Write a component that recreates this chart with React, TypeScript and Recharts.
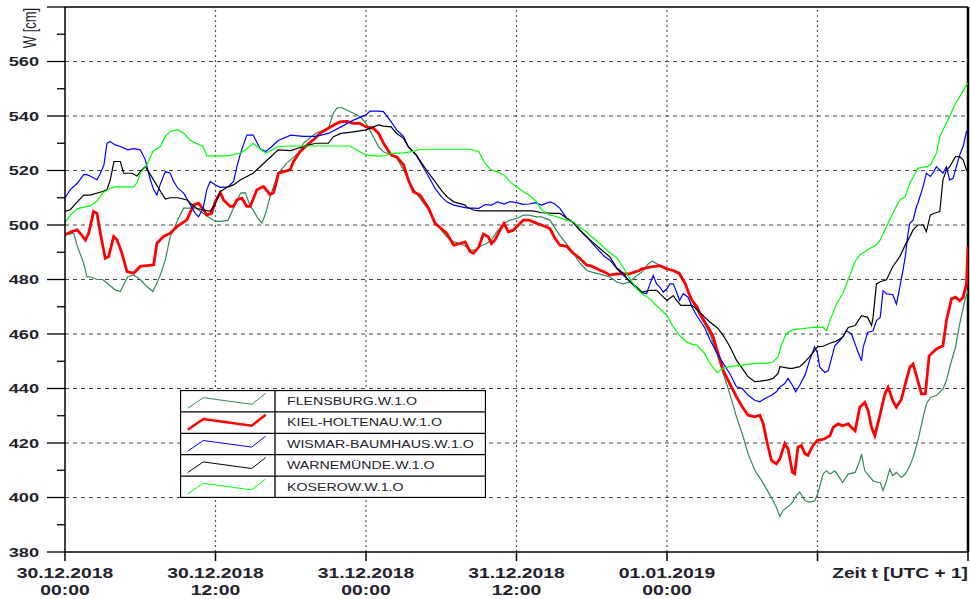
import React from 'react';
import { LineChart, Line, XAxis, YAxis, ReferenceLine, Legend } from 'recharts';

// Water level at Baltic gauges, 30.12.2018 00:00 - 02.01.2019 00:00 (hours from start)
const stations = ['FLENSBURG.W.1.O', 'KIEL-HOLTENAU.W.1.O', 'WISMAR-BAUMHAUS.W.1.O', 'WARNEMÜNDE.W.1.O', 'KOSEROW.W.1.O'];
const colors = ['#2e8b57', '#ff0000', '#0000ff', '#000000', '#00ff00'];
const widths = [1.2, 2.8, 1.2, 1.2, 1.2];

const xTicks = [0, 12, 24, 36, 48, 60, 72];
const xTickDates = ['30.12.2018', '30.12.2018', '31.12.2018', '31.12.2018', '01.01.2019', '', 'Zeit t [UTC + 1]'];
const xTickTimes = ['00:00', '12:00', '00:00', '12:00', '00:00', '', ''];
const yTicks = [380, 390, 400, 410, 420, 430, 440, 450, 460, 470, 480, 490, 500, 510, 520, 530, 540, 550, 560, 570, 580];
const gridY = [400, 420, 440, 460, 480, 500, 520, 540, 560];
const gridX = [12, 24, 36, 48, 60];

const flensburgT = [0, 0.69, 1, 1.49, 1.75, 2, 2.55, 3, 3.35, 4, 4.41, 5, 5.47, 6, 6.53, 7, 7.33, 7.6, 8, 8.39, 8.66, 9, 9.46, 10, 10.5, 11, 11.58, 12, 12.38, 13, 13.44, 14, 14.37, 14.77, 15, 15.3, 15.7, 16, 16.36, 17, 17.69, 18, 18.75, 19, 20, 21, 21.4, 21.67, 22, 22.46, 23, 23.53, 24, 24.59, 25, 25.39, 26, 26.45, 27, 27.38, 28, 28.31, 29, 29.51, 30, 30.44, 31, 31.5, 32, 32.3, 32.83, 33, 33.62, 34, 34.42, 35, 35.48, 36, 36.55, 37, 37.61, 38, 38.67, 39, 39.46, 40, 40.5, 41, 41.6, 42, 42.65, 43, 43.45, 44, 44.5, 45, 45.6, 46, 46.5, 46.8, 47, 47.43, 48, 48.5, 49, 49.46, 50, 50.62, 51, 51.42, 52, 52.48, 53, 53.54, 54, 54.47, 55, 55.53, 56, 56.46, 56.72, 57, 57.25, 57.78, 58, 58.31, 58.58, 59, 59.38, 59.79, 60, 60.45, 60.71, 61, 61.38, 61.65, 62, 62.45, 63, 63.37, 63.51, 63.77, 64, 64.43, 64.83, 65, 65.23, 65.5, 65.76, 66, 66.29, 66.69, 67, 67.36, 67.62, 68, 68.42, 68.68, 69, 69.48, 70, 70.28, 70.54, 71, 71.34, 71.74, 72];
const flensburgW = [496.4, 497, 492, 486, 481, 481, 480, 480, 478.7, 476.2, 475.6, 481, 481.7, 480, 477.4, 475.6, 478.7, 481.7, 487.2, 495.8, 498.2, 502, 506.2, 506.2, 506.2, 504.3, 502.5, 501.3, 501.3, 501.7, 506.2, 511.7, 511.9, 506.8, 505.6, 503, 500.7, 504.3, 510.5, 519, 522.7, 524, 527, 530, 533.7, 535.5, 541, 542.8, 543.2, 542.2, 541, 539.8, 537.3, 532.4, 528.7, 526.9, 525.7, 524.5, 520.2, 516.5, 511.6, 509.8, 505.5, 500.6, 498.1, 495.7, 493.8, 493.2, 492, 490.8, 490.8, 492, 493.2, 494.5, 497.5, 500.6, 501.8, 502.4, 503.6, 503.6, 503, 503, 501.8, 499.3, 496.2, 493, 490, 486.3, 483.3, 482.7, 482, 481.5, 480.9, 479.1, 478.4, 479.1, 481.5, 482.7, 485.7, 486.7, 486.3, 485.1, 483.9, 483.3, 482.7, 478.4, 472.3, 466.8, 463.8, 460.1, 452.5, 445.5, 438.2, 429.6, 423.4, 416, 410, 406.3, 402.6, 398.9, 396.4, 393, 395.2, 397.1, 398.3, 400.7, 402, 398.9, 398.3, 398.8, 401.2, 408.6, 409.8, 408.6, 409.8, 408, 405.5, 408.6, 409.2, 413.5, 415.9, 409.8, 408.6, 406.1, 405.5, 405.5, 402.5, 406.1, 410.4, 408, 409.2, 407.4, 408.6, 411.7, 414.7, 420.8, 429.4, 434.3, 436.7, 437.4, 439.8, 442.9, 447.8, 455.1, 463.7, 472.2, 476];

const kielT = [0, 0.5, 0.96, 1.3, 1.62, 1.89, 2.28, 2.55, 2.82, 3.21, 3.48, 3.88, 4.14, 4.54, 4.94, 5.47, 6, 7.07, 7.33, 7.86, 8.39, 8.92, 9.72, 10.25, 10.65, 11.05, 11.31, 11.69, 11.98, 12.38, 12.64, 13.17, 13.44, 13.71, 14.1, 14.5, 14.77, 15.3, 15.83, 16.36, 16.63, 17.03, 17.95, 18.22, 18.75, 19.02, 19.81, 20.35, 21, 21.67, 22, 22.5, 23, 23.5, 24, 24.6, 25, 25.4, 26, 26.45, 27, 27.38, 27.78, 28.31, 29, 29.51, 30, 30.44, 31, 31.5, 31.9, 32.3, 32.56, 33, 33.36, 33.75, 34, 34.29, 34.68, 35, 35.35, 35.75, 36, 36.55, 37, 37.61, 38, 38.67, 39, 39.46, 40, 40.53, 41, 41.59, 42, 42.65, 43, 43.45, 44, 45, 45.8, 46, 46.64, 47.43, 48, 48.5, 49, 49.46, 49.7, 50, 50.4, 50.62, 51, 51.42, 51.69, 52, 52.48, 53, 53.54, 54, 54.47, 55, 55.4, 55.67, 56, 56.33, 56.72, 57, 57.39, 57.65, 58, 58.18, 58.44, 58.71, 59, 59.24, 59.64, 60, 60.5, 61, 61.25, 61.65, 62, 62.45, 62.71, 63, 63.37, 63.77, 64.04, 64.31, 64.57, 65, 65.37, 65.63, 66, 66.29, 66.69, 67, 67.36, 67.62, 68, 68.29, 68.6, 68.9, 69.48, 70, 70.28, 70.68, 71, 71.34, 71.61, 71.88, 72];
const kielW = [496.4, 497.5, 498.2, 496.5, 494.5, 497, 505, 504.3, 497, 487.8, 488.4, 495.8, 494.6, 489.7, 482.9, 482.3, 484.8, 485.4, 493.3, 495.8, 497, 499.4, 501.9, 507.4, 508, 505.6, 503.7, 504.3, 508.6, 511.9, 509.2, 506.8, 506.8, 509.2, 509.8, 506.8, 506.8, 512.9, 514.1, 511.1, 511.9, 519, 520.2, 523.3, 527, 528.2, 531.3, 533.7, 535.5, 537.3, 537.9, 538, 537.3, 537.3, 536, 535.5, 533.6, 530, 525.7, 525, 522, 516.5, 512.2, 511, 506.1, 500.6, 498.7, 496.9, 492.6, 493.2, 493.8, 490.2, 489.6, 492, 496.7, 495.7, 493.2, 494.5, 498.1, 500.6, 497.5, 498.1, 499.3, 501.8, 501.8, 500.6, 500, 498.7, 495.7, 492.6, 492.2, 489.6, 488, 485.3, 484.9, 483.4, 482.8, 481.6, 482.1, 482.1, 483.3, 483.9, 484.5, 485.1, 483.9, 483.3, 482.1, 478.4, 475.4, 472.3, 469.9, 467.4, 464.5, 461.3, 458.9, 454, 446.7, 441.8, 436.9, 433.3, 430.2, 429.6, 430.2, 427.1, 419.8, 413.6, 412.4, 414.2, 419.8, 417.9, 409.3, 408.7, 418.5, 419.1, 416.1, 415.5, 419.1, 421, 421.4, 422.7, 425.7, 427, 426.3, 427, 425.7, 424.5, 433.1, 434.9, 431.8, 425.7, 422.7, 430.6, 438, 440.4, 435.5, 433.1, 436.1, 441.6, 447.8, 449, 442.9, 438, 438, 452, 454.5, 455.7, 464.9, 472.9, 473.5, 472.2, 473.5, 478.4, 492];

const wismarT = [0, 0.42, 1, 1.49, 1.75, 2, 2.55, 2.82, 3.1, 3.35, 3.61, 4, 4.41, 5, 5.5, 6, 6.4, 6.8, 7.07, 7.33, 7.6, 8, 8.39, 8.66, 9, 9.46, 10, 10.39, 10.65, 11, 11.31, 11.58, 12, 12.38, 13, 13.44, 13.71, 14, 14.5, 15, 15.56, 16, 16.49, 17, 18, 19, 20, 21, 22, 23, 24, 24.32, 25, 25.39, 26, 26.45, 27, 27.38, 28, 28.31, 29, 29.51, 30, 30.44, 31, 32, 33, 33.5, 34, 34.5, 35, 35.5, 36, 36.5, 37, 37.5, 38, 38.67, 39, 39.46, 40, 40.53, 41, 41.59, 42, 42.65, 43, 43.45, 44, 44.51, 45, 45.58, 46, 46.37, 46.64, 46.9, 47.17, 47.43, 47.7, 48, 48.23, 48.5, 48.76, 49, 49.29, 49.69, 50, 50.36, 51, 51.42, 52, 52.48, 53, 53.54, 54, 54.47, 55, 55.4, 55.8, 56.33, 56.72, 57, 57.39, 57.65, 58, 58.26, 58.58, 59, 59.38, 59.77, 60, 60.18, 60.58, 60.85, 61, 61.38, 61.78, 62, 62.31, 62.71, 63, 63.24, 63.51, 63.64, 64, 64.43, 64.7, 65, 65.23, 65.5, 66, 66.29, 66.56, 66.82, 67, 67.22, 67.36, 67.62, 67.89, 68, 68.42, 68.68, 69, 69.27, 69.48, 69.75, 70, 70.28, 70.54, 70.81, 71, 71.34, 71.61, 71.88, 72];
const wismarW = [510, 513, 515.4, 518.5, 518.5, 518, 516.6, 519, 522, 530, 530.6, 529.4, 528.8, 527.6, 528, 527.6, 524, 516.6, 513, 511, 515, 519.6, 519, 516, 513.5, 511.7, 507.4, 504.3, 503, 506, 513, 516, 514.7, 513.8, 514, 516, 521.5, 526.4, 533, 533, 528, 527, 528.8, 531, 533, 532.5, 532.5, 533.6, 536, 538.5, 540.4, 541.8, 541.8, 541.6, 537.9, 534.9, 532.4, 528.7, 525.7, 523.2, 517.7, 513.4, 510.4, 508.5, 507.3, 506.3, 506.1, 507.5, 507.3, 508.5, 507.7, 508.6, 508.2, 507.6, 507.7, 508.2, 507.3, 508.5, 507.9, 506.1, 502.5, 501, 498.5, 495.7, 493.5, 490.2, 488.5, 487.1, 484, 481.6, 479.4, 476.7, 475.2, 474.8, 478.4, 481.5, 478.4, 477.2, 475.4, 476.6, 478.4, 478.4, 475.4, 472.3, 474.8, 473.5, 469.9, 466.8, 462.4, 458, 452.9, 449.2, 445.5, 440.6, 440, 437.5, 435.7, 435.1, 436.3, 437.5, 438.8, 440.6, 441.8, 443.7, 441.2, 438.8, 441.2, 444.9, 450.4, 455.3, 452.9, 447.8, 445.9, 446.5, 449, 455.7, 457.6, 458.8, 461.2, 460, 456.3, 453.3, 450.2, 455.1, 460.6, 461.2, 464.9, 466.1, 475.9, 474.7, 474.5, 471, 477, 483.5, 488.4, 497, 500.6, 501.8, 506.7, 508, 514.1, 519, 517.8, 519.6, 521.4, 520.2, 519, 521.4, 516.5, 517.1, 520.2, 525.7, 528.8, 534.3, 535];

const warnemuendeT = [0, 0.42, 1, 1.49, 2, 3, 3.35, 3.61, 3.9, 4.41, 4.67, 5, 5.34, 5.74, 6, 6.4, 6.67, 7, 7.46, 8, 8.39, 9, 9.72, 10, 10.52, 11, 11.58, 12, 12.38, 13, 13.44, 14, 15, 16, 17, 18, 19, 20, 21, 21.4, 22, 23, 24, 24.59, 25, 25.39, 26, 26.45, 27, 27.38, 28, 29, 29.51, 30, 30.44, 31, 31.9, 32, 32.56, 33, 37.3, 38, 39, 39.46, 40, 40.53, 41, 41.59, 42, 42.65, 43, 43.45, 44, 44.51, 45, 45.58, 46, 46.64, 47.17, 47.43, 48, 48.5, 48.76, 49.1, 50, 50.62, 51, 51.42, 52, 52.48, 53, 53.54, 54, 54.47, 55, 55.4, 56, 56.46, 56.86, 57, 57.78, 58, 58.58, 59, 59.38, 60, 60.44, 61, 61.5, 62, 62.45, 63, 63.51, 64, 64.31, 64.43, 64.7, 65, 65.5, 66, 66.56, 67, 67.36, 67.62, 68, 68.42, 68.68, 69, 69.3, 69.75, 70, 70.28, 70.54, 71, 71.34, 71.61, 71.88, 72];
const warnemuendeW = [505, 505.6, 508.6, 511, 511, 512.3, 513, 516.6, 523.3, 523.3, 519, 519, 519, 518, 519.6, 521.5, 519.5, 517, 513.5, 509.5, 510, 510, 509.2, 508, 506, 505.6, 505, 508, 512.3, 514, 514.7, 516.6, 519, 523.3, 527.6, 527.3, 528.8, 530, 530, 532.4, 533.6, 534.2, 534.9, 536, 536.7, 536.3, 536, 533.6, 531.8, 528.7, 525.7, 519, 515.9, 512.8, 510.4, 508.5, 507.3, 506.7, 505.5, 505.2, 505.2, 504.5, 504.3, 504.3, 502.5, 500.8, 498.3, 495.7, 494, 491.4, 490, 488.3, 484.2, 482.3, 479.3, 477.3, 475.4, 476, 476, 474.8, 472.3, 474.1, 472.3, 470.5, 470.5, 468, 466.2, 464.4, 462.3, 459.5, 455.5, 450.4, 447.4, 444.3, 442.5, 442.7, 443.1, 443.7, 445.5, 448, 447.4, 447.4, 448, 449.8, 451.7, 455.3, 455.5, 456.6, 457.4, 458.8, 462.4, 463.1, 466.7, 466.1, 463.1, 466.1, 478.4, 479.2, 479.9, 484.7, 488.4, 492.7, 495.7, 498.2, 500, 500, 497.6, 503.7, 504.3, 504.9, 516.5, 520.2, 521.4, 525.1, 525.1, 523.9, 520.2, 519.5];

const koserowT = [0, 0.5, 1, 2, 2.5, 3, 3.61, 4, 5.47, 5.74, 6, 6.53, 7, 7.6, 8, 8.39, 9, 9.46, 10, 11, 11.31, 13, 14, 14.5, 15, 15.56, 16, 16.5, 17, 18, 22.7, 23.26, 24, 25, 25.65, 26, 27, 27.78, 28.31, 32.3, 33, 33.49, 34, 34.42, 35, 35.48, 36, 36.55, 37, 37.61, 38, 38.67, 39, 40, 40.53, 41, 41.59, 42, 42.65, 43, 43.45, 44, 44.5, 45, 45.6, 46, 46.64, 47, 47.43, 48, 48.5, 49, 49.55, 50, 50.36, 51, 51.42, 52, 52.48, 53, 54, 55, 56, 56.46, 56.86, 57.12, 57.52, 58, 59, 60, 60.45, 60.71, 61, 61.51, 62, 62.45, 63, 63.37, 64, 64.7, 65, 65.5, 66, 66.56, 67, 67.36, 68, 68.68, 69, 69.48, 69.75, 70, 70.54, 71, 71.34, 71.88, 72];
const koserowW = [501, 504, 506, 507, 508.6, 511.7, 513.5, 514, 514, 515.5, 519, 522, 527, 528.8, 532.5, 534.3, 535, 533.7, 531, 528.8, 525.4, 525.4, 526.4, 528, 530, 528, 526.4, 527.5, 528.8, 529, 529, 527.5, 525.7, 525.3, 525.5, 526.3, 526.5, 527, 527.8, 527.8, 526.9, 522.6, 520.2, 519.6, 518.3, 515.9, 514, 512.2, 511, 508.5, 505.5, 503.6, 503.3, 501.8, 501.2, 499.3, 497.5, 495.7, 493.2, 491.6, 489.8, 488, 484.5, 480.5, 476.6, 474.8, 472.9, 471.1, 469.3, 466.8, 462.6, 459.5, 457.1, 456.2, 456, 452.9, 449.2, 445.8, 447.4, 448, 448.6, 449.2, 449.2, 449.8, 451.7, 456, 460.2, 461.5, 462.1, 462.5, 462.4, 461.2, 464.9, 471, 474.7, 480, 486.6, 489, 490.9, 492.7, 494.5, 499.4, 504.3, 509.2, 510.4, 515.3, 520.8, 521.4, 522, 526.3, 532.4, 534.9, 539.8, 544.6, 547.1, 551.4, 552];

const seriesT = [flensburgT, kielT, wismarT, warnemuendeT, koserowT];
const seriesW = [flensburgW, kielW, wismarW, warnemuendeW, koserowW];

const FONT = 'Liberation Sans, Arial, sans-serif';
const TEXT = '#22222c';

const XTick = (props: any) => {
  const { x, y, payload } = props;
  const i = xTicks.indexOf(payload.value);
  const last = i === xTicks.length - 1;
  const anchor = last ? 'end' : 'middle';
  const sx = last ? 1.37 : 1.38;
  return (
    <g fill={TEXT} fontFamily={FONT} fontSize={14} fontWeight="bold">
      <text transform={`translate(${x},${y + 17}) scale(${sx},1)`} textAnchor={anchor}>{xTickDates[i]}</text>
      <text transform={`translate(${x},${y + 34}) scale(${sx},1)`} textAnchor={anchor}>{xTickTimes[i]}</text>
    </g>
  );
};

const YTick = (props: any) => {
  const { x, y, payload } = props;
  const v = payload.value;
  const major = v % 20 === 0;
  return (
    <g fill={TEXT} fontFamily={FONT} fontSize={13} fontWeight="bold">
      <line x1={x - (major ? 18 : 8)} x2={x} y1={y} y2={y} stroke="#000" strokeWidth={1.3} />
      {major && v < 580 && (
        <text transform={`translate(${x - 26},${y + 4.5}) scale(1.4,1)`} textAnchor="end">{v}</text>
      )}
    </g>
  );
};

const LegendBox = () => {
  const rowH = 21.4;
  return (
    <svg width={306} height={108} style={{ display: 'block' }}>
      <rect x={0.5} y={0.5} width={305} height={107} fill="#fff" stroke="#000" strokeWidth={1.3} />
      <line x1={95} x2={95} y1={0} y2={108} stroke="#000" strokeWidth={1.3} />
      {stations.map((s, i) => {
        const top = i * rowH;
        return (
          <g key={s}>
            {i > 0 && <line x1={0} x2={306} y1={top + 0.5} y2={top + 0.5} stroke="#000" strokeWidth={1.3} />}
            <polyline
              points={`7.7,${top + 18.3} 23.3,${top + 7.7} 71.7,${top + 14.3} 85.7,${top + 3.3}`}
              fill="none" stroke={colors[i]} strokeWidth={widths[i] > 2 ? 2.4 : 1} />
            <text transform={`translate(107,${top + 15}) scale(1.42,1)`} fill={TEXT}
              fontFamily={FONT} fontSize={10}>{s}</text>
          </g>
        );
      })}
    </svg>
  );
};

export default function App() {
  return (
    <div style={{ position: 'fixed', left: 0, top: 0, width: 970, height: 599, background: '#fff' }}>
      <LineChart width={970} height={599} margin={{ top: 7, right: 2, bottom: 0, left: 5 }}>
        <XAxis type="number" dataKey="t" domain={[0, 72]} ticks={xTicks} interval={0}
          tickSize={9} tickMargin={0} height={47} allowDataOverflow
          axisLine={{ stroke: '#000', strokeWidth: 1.5 }} tickLine={{ stroke: '#000', strokeWidth: 1.5 }}
          tick={<XTick />} />
        <YAxis type="number" domain={[380, 580]} ticks={yTicks} interval={0} width={60}
          tickSize={0} tickMargin={0} tickLine={false} allowDataOverflow
          axisLine={{ stroke: '#000', strokeWidth: 1.5 }} tick={<YTick />} />
        {gridY.map((v) => (
          <ReferenceLine key={`gy${v}`} y={v} stroke="#444" strokeWidth={1} strokeDasharray="4 4" />
        ))}
        {gridX.map((v) => (
          <ReferenceLine key={`gx${v}`} x={v} stroke="#555" strokeWidth={1.2} strokeDasharray="2 3" />
        ))}
        <ReferenceLine y={580} stroke="#000" strokeWidth={1.5} />
        <ReferenceLine x={72} stroke="#000" strokeWidth={2.5} />
        {stations.map((s, i) => (
          <Line key={s} name={s}
            data={seriesT[i].map((t, j) => ({ t, w: seriesW[i][j] }))}
            dataKey="w" type="linear" stroke={colors[i]} strokeWidth={widths[i]}
            dot={false} activeDot={false} isAnimationActive={false} />
        ))}
        <Legend content={<LegendBox />} layout="vertical" align="center" verticalAlign="middle"
          wrapperStyle={{ position: 'absolute', left: 180, top: 390, width: 306, height: 108 }} />
        <text transform="translate(36,28) scale(1.42,1) rotate(-90)" textAnchor="middle"
          fill={TEXT} fontFamily={FONT} fontSize={13}>W [cm]</text>
      </LineChart>
    </div>
  );
}
